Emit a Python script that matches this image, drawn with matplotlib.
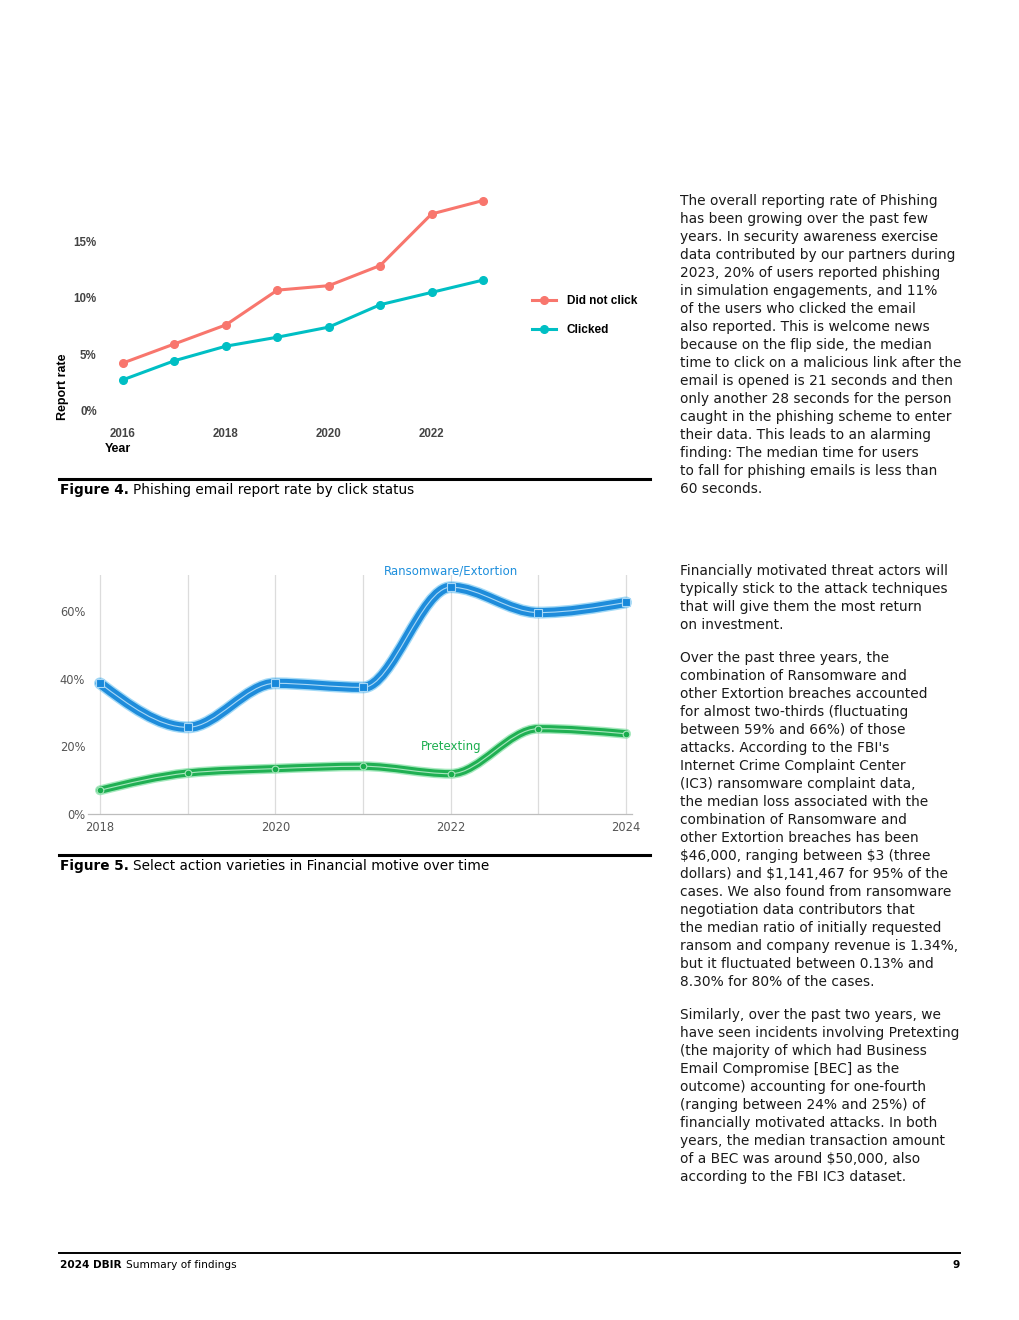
import numpy as np
import matplotlib.pyplot as plt
from matplotlib.path import Path
from matplotlib.patches import PathPatch
from matplotlib.lines import Line2D

plt.rcParams['font.family'] = ['DejaVu Sans']
CHART4_FONT = ['Liberation Sans', 'DejaVu Sans']

W, H = 1020, 1320

# Figure 4: phishing report rate by click status (%)
years4 = [2016, 2017, 2018, 2019, 2020, 2021, 2022, 2023]
did_not_click = [4.2, 5.9, 7.6, 10.7, 11.1, 12.9, 17.5, 18.7]
clicked = [2.7, 4.4, 5.7, 6.5, 7.4, 9.4, 10.5, 11.6]
ticks4_x = [2016, 2018, 2020, 2022]
ticks4_y = [0, 5, 10, 15]

# Figure 5: action varieties in Financial motive (%)
years5 = [2018, 2019, 2020, 2021, 2022, 2023, 2024]
ransomware = [38.6, 25.6, 38.6, 37.4, 67.0, 59.5, 62.5]
pretexting = [7.0, 12.1, 13.4, 14.1, 11.9, 25.2, 23.7]
ticks5_x = [2018, 2020, 2022, 2024]
ticks5_y = [0, 20, 40, 60]

para1 = ["The overall reporting rate of Phishing",
         "has been growing over the past few",
         "years. In security awareness exercise",
         "data contributed by our partners during",
         "2023, 20% of users reported phishing",
         "in simulation engagements, and 11%",
         "of the users who clicked the email",
         "also reported. This is welcome news",
         "because on the flip side, the median",
         "time to click on a malicious link after the",
         "email is opened is 21 seconds and then",
         "only another 28 seconds for the person",
         "caught in the phishing scheme to enter",
         "their data. This leads to an alarming",
         "finding: The median time for users",
         "to fall for phishing emails is less than",
         "60 seconds."]
para2 = ["Financially motivated threat actors will",
         "typically stick to the attack techniques",
         "that will give them the most return",
         "on investment."]
para3 = ["Over the past three years, the",
         "combination of Ransomware and",
         "other Extortion breaches accounted",
         "for almost two-thirds (fluctuating",
         "between 59% and 66%) of those",
         "attacks. According to the FBI's",
         "Internet Crime Complaint Center",
         "(IC3) ransomware complaint data,",
         "the median loss associated with the",
         "combination of Ransomware and",
         "other Extortion breaches has been",
         "$46,000, ranging between $3 (three",
         "dollars) and $1,141,467 for 95% of the",
         "cases. We also found from ransomware",
         "negotiation data contributors that",
         "the median ratio of initially requested",
         "ransom and company revenue is 1.34%,",
         "but it fluctuated between 0.13% and",
         "8.30% for 80% of the cases."]
para4 = ["Similarly, over the past two years, we",
         "have seen incidents involving Pretexting",
         "(the majority of which had Business",
         "Email Compromise [BEC] as the",
         "outcome) accounting for one-fourth",
         "(ranging between 24% and 25%) of",
         "financially motivated attacks. In both",
         "years, the median transaction amount",
         "of a BEC was around $50,000, also",
         "according to the FBI IC3 dataset."]


def fx(px):
    return px / W


def fy(py):
    return 1 - py / H


def monotone_path(xs, ys):
    # monotone cubic (like d3 curveMonotoneX) as bezier segments
    xs = np.asarray(xs, float)
    ys = np.asarray(ys, float)
    n = len(xs)
    h = np.diff(xs)
    s = np.diff(ys) / h
    t = np.zeros(n)
    for i in range(1, n - 1):
        p = (s[i - 1] * h[i] + s[i] * h[i - 1]) / (h[i - 1] + h[i])
        t[i] = (np.sign(s[i - 1]) + np.sign(s[i])) * min(abs(s[i - 1]), abs(s[i]), 0.5 * abs(p))
    t[0] = (3 * s[0] - t[1]) / 2
    t[-1] = (3 * s[-1] - t[-2]) / 2
    verts = [(xs[0], ys[0])]
    codes = [Path.MOVETO]
    for i in range(n - 1):
        d = h[i] / 3
        verts += [(xs[i] + d, ys[i] + t[i] * d),
                  (xs[i + 1] - d, ys[i + 1] - t[i + 1] * d),
                  (xs[i + 1], ys[i + 1])]
        codes += [Path.CURVE4] * 3
    return Path(verts, codes)


fig = plt.figure(figsize=(W / 100, H / 100), dpi=100)
renderer = fig.canvas.get_renderer()

# ---- Figure 4 ----
ax4 = fig.add_axes([fx(105), fy(420), 395 / W, 230 / H])
ax4.plot(years4, did_not_click, color='#F8766D', lw=2.2, marker='o', ms=5.5, label='Did not click')
ax4.plot(years4, clicked, color='#00BFC4', lw=2.2, marker='o', ms=5.5, label='Clicked')
ax4.set_xlim(2015.65, 2023.33)
ax4.set_ylim(-0.89, 19.64)
ax4.set_xticks(ticks4_x)
ax4.set_xticklabels([str(y) for y in ticks4_x])
ax4.set_yticks(ticks4_y)
ax4.set_yticklabels(['%d%%' % v for v in ticks4_y])
for sp in ax4.spines.values():
    sp.set_visible(False)
ax4.tick_params(length=0, labelsize=8.3, labelcolor='#444444', pad=6)
for lab in ax4.get_xticklabels() + ax4.get_yticklabels():
    lab.set_fontweight('bold')
    lab.set_family(CHART4_FONT)
ax4.set_xlabel('Year', loc='left', fontsize=9, fontweight='bold', family=CHART4_FONT)
ax4.xaxis.set_label_coords(0, -0.10)
fig.text(fx(63), fy(420), 'Report rate', rotation=90, ha='center', va='bottom',
         fontsize=9, fontweight='bold', family=CHART4_FONT)
ax4.legend(loc='center left', bbox_to_anchor=(fx(532), fy(315.5)), bbox_transform=fig.transFigure,
           frameon=False, handlelength=2.0, handletextpad=0.95,
           labelspacing=1.45, borderpad=0, borderaxespad=0,
           prop={'weight': 'bold', 'size': 8.5, 'family': CHART4_FONT})

# ---- Figure 5 ----
ax5 = fig.add_axes([fx(88), fy(814), 544 / W, 239 / H])
ax5.set_xlim(2017.863, 2024.068)
ax5.set_ylim(0, 70.6)
for yr in years5:
    ax5.axvline(yr, color='#dcdcdc', lw=0.9, zorder=0)
series5 = [(ransomware, '#1788da', '#47b4ee', '#a9d8f6', 's', 6.6, 5.6),
           (pretexting, '#19ad4d', '#4fd47f', '#a8e6bd', 'o', 5.2, 4.8)]
for vals, col, halo, core, mk, bw, ms in series5:
    path = monotone_path(years5, vals)
    ax5.add_patch(PathPatch(path, fill=False, edgecolor=halo, lw=bw + 2.0, alpha=0.5,
                            capstyle='round', joinstyle='round', zorder=2))
    ax5.add_patch(PathPatch(path, fill=False, edgecolor=col, lw=bw, alpha=0.95,
                            capstyle='round', joinstyle='round', zorder=3))
    ax5.add_patch(PathPatch(path, fill=False, edgecolor=core, lw=0.8, zorder=4))
    ax5.plot(years5, vals, linestyle='none', marker=mk, ms=ms, mfc=col, mec=core, mew=0.8, zorder=5)
ax5.text(2022, 71.8, 'Ransomware/Extortion', color='#1e8fdc', fontsize=8.5, ha='center', va='center',
         clip_on=False)
ax5.text(2022, 19.8, 'Pretexting', color='#1cae4f', fontsize=8.5, ha='center', va='center')
ax5.set_xticks(ticks5_x)
ax5.set_xticklabels([str(y) for y in ticks5_x])
ax5.set_yticks(ticks5_y)
ax5.set_yticklabels(['%d%%' % v for v in ticks5_y])
for side in ['top', 'right', 'left']:
    ax5.spines[side].set_visible(False)
ax5.spines['bottom'].set_color('#bdbdbd')
ax5.spines['bottom'].set_linewidth(0.9)
ax5.tick_params(length=0, labelsize=8.3, labelcolor='#555555')
ax5.tick_params(axis='x', pad=5)
ax5.tick_params(axis='y', pad=2)


# ---- captions and rules ----
def caption(x, y, bold, rest, size=10):
    t1 = fig.text(fx(x), fy(y), bold, fontsize=size, fontweight='bold', va='center')
    bb = t1.get_window_extent(renderer)
    fig.text((bb.x1 + 4) / W, fy(y), rest, fontsize=size, va='center')


fig.add_artist(Line2D([fx(59), fx(650)], [fy(479), fy(479)], color='black', lw=2.2))
caption(60, 490, 'Figure 4.', 'Phishing email report rate by click status', size=9.8)
fig.add_artist(Line2D([fx(59), fx(650)], [fy(855), fy(855)], color='black', lw=2.2))
caption(60, 866, 'Figure 5.', 'Select action varieties in Financial motive over time', size=9.8)

# ---- body text ----
for lines, y0 in [(para1, 201), (para2, 571), (para3, 658), (para4, 1015)]:
    for i, line in enumerate(lines):
        fig.text(fx(680), fy(y0 + 18 * i), line, fontsize=9.9, va='center',
                 color='#1a1a1a', parse_math=False)

# ---- footer ----
fig.add_artist(Line2D([fx(59), fx(960)], [fy(1253), fy(1253)], color='black', lw=1.4))
caption(60, 1265, '2024 DBIR', 'Summary of findings', size=7.6)
fig.text(fx(960), fy(1265), '9', fontsize=7.6, fontweight='bold', ha='right', va='center')

fig.savefig('out.png', dpi=100)
